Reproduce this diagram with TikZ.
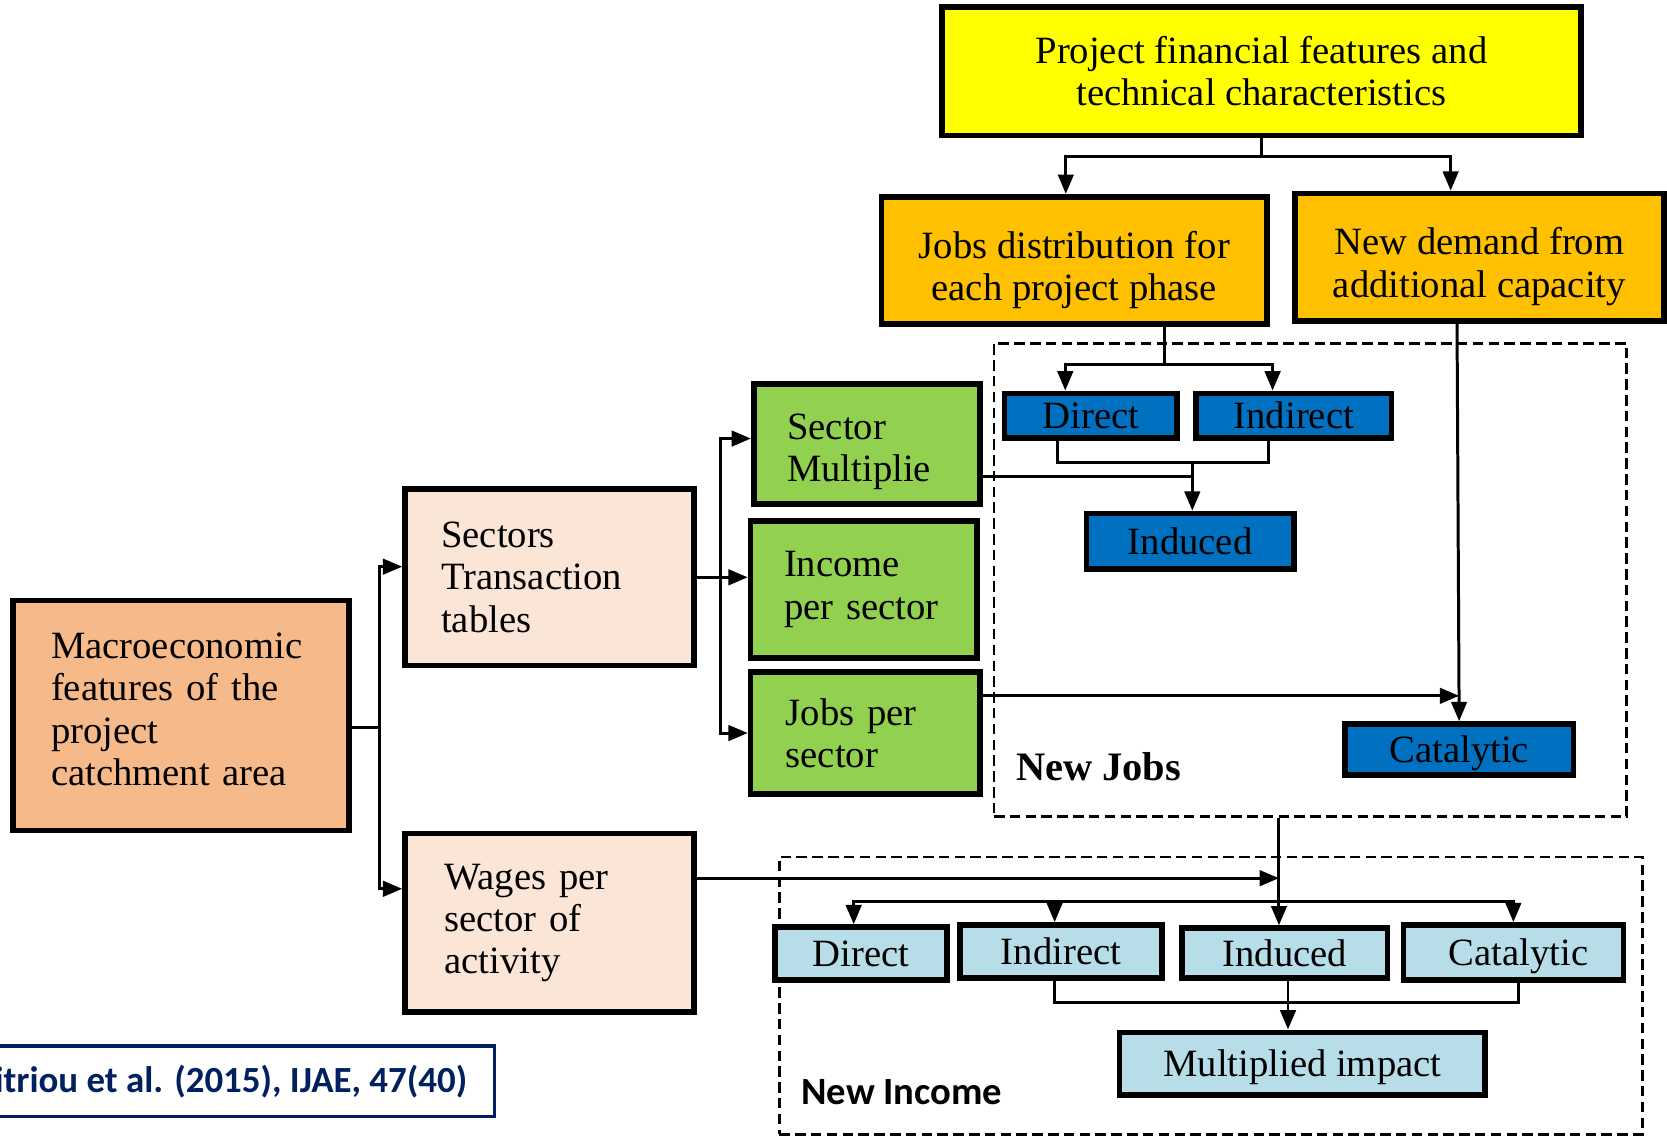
\documentclass[tikz,border=0pt]{standalone}
\usepackage{fontspec}
\setmainfont{Liberation Serif}
\newfontfamily\calibri{Carlito}
\usetikzlibrary{arrows.meta,calc}
\newdimen\upx \upx=0.010631cm
\definecolor{cyellow}{HTML}{FFFF00}
\definecolor{corange}{HTML}{FFC000}
\definecolor{cblue}{HTML}{0070C0}
\definecolor{cgreen}{HTML}{92D050}
\definecolor{cbeige}{HTML}{FBE5D6}
\definecolor{cmacro}{HTML}{F6BA8A}
\definecolor{clblue}{HTML}{B7DEE8}
\definecolor{cnavy}{HTML}{002060}
\tikzset{
	box/.style={draw, line width=1.6pt, rectangle, inner sep=0pt, align=center, font=\fontsize{11}{12}\selectfont},
	leftbox/.style={box, align=left},
	lowtext/.style={text height=10pt, text depth=2.6pt},
	conn/.style={line width=0.85pt},
	arr/.style={conn, -{Triangle[length=5.5pt,width=4.4pt]}},
	groupbox/.style={draw, line width=0.75pt, dash pattern=on 3pt off 1.5pt, inner sep=0pt},
}

\begin{document}
\begin{tikzpicture}[x=0.010631cm, y=-0.010631cm]
		%%%%% START %%%%%
		\useasboundingbox (0,0) rectangle (1568,1069);
		
		\node[box, fill=cyellow, minimum width=601\upx, minimum height=121\upx] (proj) at (1186.5,67) {Project financial features and\\technical characteristics};
		\node[box, fill=corange, minimum width=363\upx, minimum height=120\upx] (jobsdist) at (1010.5,245) {\rule{0pt}{13pt}Jobs distribution for\\each project phase};
		\node[box, fill=corange, minimum width=347\upx, minimum height=120\upx] (newdemand) at (1391.5,242) {\rule{0pt}{13pt}New demand from\\additional capacity};
		
		% new jobs
		\node[groupbox, minimum width=595\upx, minimum height=445\upx] (newjobs) at (1232.5,545.5) {};
		\node[box, fill=cblue, minimum width=162\upx, minimum height=42\upx] (jdirect) at (1026,391) {Direct};
		\node[box, fill=cblue, minimum width=184\upx, minimum height=42\upx] (jindirect) at (1217,391) {Indirect};
		\node[box, fill=cblue, minimum width=195\upx, minimum height=52\upx] (jinduced) at (1119.5,509) {Induced};
		\node[box, lowtext, fill=cblue, minimum width=215\upx, minimum height=48\upx] (jcatal) at (1372.5,705) {Catalytic};
		\node[font=\bfseries\fontsize{11.5}{12}\selectfont, anchor=west, inner sep=0pt] (jobslabel) at (955,721) {New Jobs};
		
		\node[leftbox, fill=cgreen, minimum width=213\upx, minimum height=113\upx, text width=150\upx] (secmult) at (815.5,417.5) {\rule{0pt}{12pt}Sector\\Multiplie};
		\node[leftbox, fill=cgreen, minimum width=213\upx, minimum height=129\upx, text width=150\upx] (income) at (812.5,554.5) {Income\\per sector};
		\node[leftbox, fill=cgreen, minimum width=216\upx, minimum height=115\upx, text width=150\upx] (jobsper) at (814,689.5) {Jobs per\\sector};
		
		\node[leftbox, fill=cbeige, minimum width=272\upx, minimum height=166\upx, text width=204\upx] (sectors) at (517,543) {Sectors\\Transaction\\tables};
		\node[leftbox, fill=cbeige, minimum width=272\upx, minimum height=168\upx, text width=198\upx] (wages) at (517,868) {Wages per\\sector of\\activity};
		\node[leftbox, fill=cmacro, minimum width=316\upx, minimum height=216\upx, text width=244\upx] (macro) at (170,673) {Macroeconomic\\features of the\\project\\catchment area\rule[-3.6pt]{0pt}{3.6pt}};
		
		% new income
		\node[groupbox, minimum width=812\upx, minimum height=261\upx] (newincome) at (1139,936.5) {};
		\node[box, lowtext, fill=clblue, minimum width=162\upx, minimum height=50\upx] (idirect) at (810,897) {Direct};
		\node[box, lowtext, fill=clblue, minimum width=190\upx, minimum height=50\upx] (iindirect) at (998,895) {Indirect};
		\node[box, lowtext, fill=clblue, minimum width=193\upx, minimum height=47\upx] (iinduced) at (1208.5,896.5) {Induced};
		\node[box, lowtext, fill=clblue, minimum width=207\upx, minimum height=52\upx] (icatal) at (1423.5,896) {\hspace{10\upx}Catalytic};
		\node[box, lowtext, fill=clblue, minimum width=344\upx, minimum height=59\upx] (imult) at (1225,1000.5) {Multiplied impact};
		\node[font=\calibri\bfseries\fontsize{11}{12}\selectfont, anchor=west, inner sep=0pt] (incomelabel) at (753,1027) {New Income};
		
		\node[draw=cnavy, line width=1pt, text=cnavy, font=\calibri\bfseries\fontsize{10.5}{12}\selectfont, minimum height=66\upx, inner xsep=26\upx, anchor=east] (source) at (467,1017) {itriou et al. (2015), IJAE, 47(40)};
		
		% connectors
		\draw[conn] (proj.south) -- ++(0,17) coordinate (ps);
		\draw[arr] (ps) -| ([xshift=-8\upx]jobsdist.north);
		\draw[arr] (ps) -| ([xshift=-27\upx]newdemand.north);
		
		\draw[conn] ([xshift=85\upx]jobsdist.south) -- ++(0,35) coordinate (js);
		\draw[arr] (js) -| ([xshift=-24\upx]jdirect.north);
		\draw[arr] (js) -| ([xshift=-20\upx]jindirect.north);
		\draw[conn] ([xshift=-31\upx]jdirect.south) -- ++(0,20) -| ([xshift=-24\upx]jindirect.south);
		\coordinate (jb) at ($(jdirect.south)!0.5!(jindirect.south)+(0,20)$);
		\draw[arr] (jb) -- (jb |- jinduced.north);
		\draw[conn] ([yshift=-31\upx]secmult.east) coordinate (sm) -- (sm -| jb);
		
		\draw[arr] ([xshift=-21\upx]newdemand.south) -- (jcatal.north);
		\draw[arr] ([yshift=35\upx]jobsper.east) coordinate (jp) -- (jp -| jcatal.north);
		
		\draw[conn] ([yshift=-11\upx]macro.east) -- ++(26,0) coordinate (mb);
		\draw[arr] (mb) |- ([yshift=10\upx]sectors.west);
		\draw[arr] (mb) |- ([yshift=32\upx]wages.west);
		\draw[conn] (sectors.east) -- ++(22,0) coordinate (sb);
		\draw[arr] (sb) |- ([yshift=5\upx]secmult.west);
		\draw[arr] (sb) -- (sb -| income.west);
		\draw[arr] (sb) |- (jobsper.west);
		
		\coordinate (ib) at (1203,848);
		\draw[arr] (newjobs.south -| ib) -- (ib |- iinduced.north);
		\draw[arr] ([yshift=42\upx]wages.east) coordinate (wg) -- (wg -| ib);
		\draw[arr] (ib) -| ([xshift=-7\upx]idirect.north);
		\draw[arr] (ib) -| ([xshift=-6\upx]iindirect.north);
		\draw[arr] (ib) -| (icatal.north);
		\draw[conn] ([xshift=-6\upx]iindirect.south) -- ++(0,20) -| ([xshift=5\upx]icatal.south);
		\draw[arr] ([xshift=3\upx]iinduced.south) coordinate (is) -- (is |- imult.north);
		
		%%%%% END %%%%%
	\end{tikzpicture}
\end{document}
